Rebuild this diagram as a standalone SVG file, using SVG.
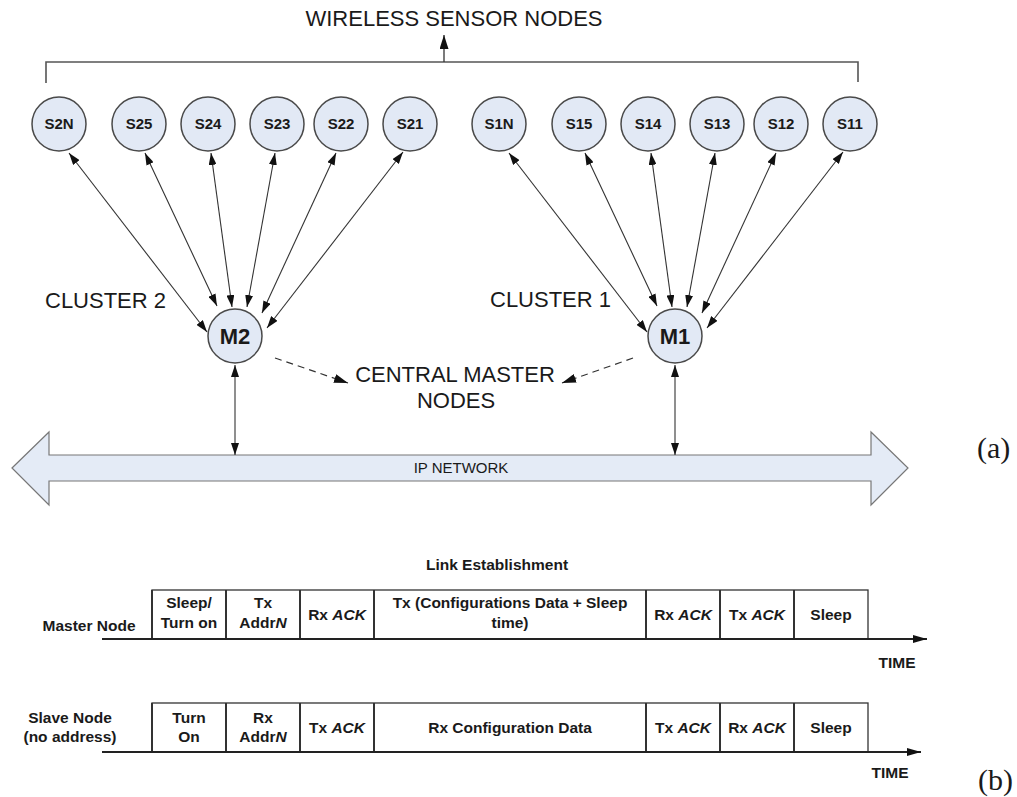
<svg xmlns="http://www.w3.org/2000/svg" width="1017" height="797" viewBox="0 0 1017 797">
  <style>
    text { font-family: "Liberation Sans", Arial, sans-serif; fill: #1a1a1a; }
    .big { font-size: 22px; }
    .node circle { fill: #e2e9f5; stroke: #4a4a4a; stroke-width: 1.5; }
    .node text { font-weight: bold; font-size: 15px; text-anchor: middle; }
    .master text { font-size: 22px; }
    .link { stroke: #333; stroke-width: 1.1; fill: none; marker-start: url(#ah); marker-end: url(#ah); }
    .dash { stroke: #333; stroke-width: 1.2; fill: none; stroke-dasharray: 7 5; marker-end: url(#ahl); }
    .bracket { stroke: #555; stroke-width: 1.6; fill: none; }
    .tl text { font-weight: bold; font-size: 15.5px; text-anchor: middle; }
    .cell { stroke: #333; stroke-width: 1.3; fill: #fff; }
    .sep { stroke: #333; stroke-width: 2; }
    .axis { stroke: #222; stroke-width: 2; fill: none; marker-end: url(#axh); }
    .fig { font-family: "Liberation Serif", "Times New Roman", serif; font-size: 30px; }
  </style>
  <defs>
    <marker id="ah" viewBox="0 0 12 8" refX="12" refY="4" markerWidth="12" markerHeight="8" markerUnits="userSpaceOnUse" orient="auto-start-reverse">
      <path d="M0,0 L12,4 L0,8 z" fill="#111"/>
    </marker>
    <marker id="ahl" viewBox="0 0 14 9" refX="14" refY="4.5" markerWidth="14" markerHeight="9" markerUnits="userSpaceOnUse" orient="auto">
      <path d="M0,0 L14,4.5 L0,9 z" fill="#111"/>
    </marker>
    <marker id="axh" viewBox="0 0 14 8" refX="14" refY="4" markerWidth="14" markerHeight="8" markerUnits="userSpaceOnUse" orient="auto">
      <path d="M0,0 L14,4 L0,8 z" fill="#111"/>
    </marker>
  </defs>

  <!-- header: label and bracket over all sensor nodes -->
  <g id="header">
    <text class="big" x="454" y="26" text-anchor="middle">WIRELESS SENSOR NODES</text>
    <path class="bracket" d="M46,83 V62 H858 V82"/>
    <line x1="444" y1="62" x2="444" y2="35" stroke="#333" stroke-width="1.3" marker-end="url(#ahl)"/>
  </g>

  <!-- cluster 2 sensor nodes -->
  <g id="S2N" class="node"><circle cx="59" cy="124" r="27"/><text x="59" y="129">S2N</text></g>
  <g id="S25" class="node"><circle cx="139" cy="124" r="27"/><text x="139" y="129">S25</text></g>
  <g id="S24" class="node"><circle cx="208" cy="124" r="27"/><text x="208" y="129">S24</text></g>
  <g id="S23" class="node"><circle cx="277" cy="124" r="27"/><text x="277" y="129">S23</text></g>
  <g id="S22" class="node"><circle cx="341" cy="124" r="27"/><text x="341" y="129">S22</text></g>
  <g id="S21" class="node"><circle cx="410" cy="124" r="27"/><text x="410" y="129">S21</text></g>

  <!-- cluster 1 sensor nodes -->
  <g id="S1N" class="node"><circle cx="499" cy="124" r="27"/><text x="499" y="129">S1N</text></g>
  <g id="S15" class="node"><circle cx="579" cy="124" r="27"/><text x="579" y="129">S15</text></g>
  <g id="S14" class="node"><circle cx="648" cy="124" r="27"/><text x="648" y="129">S14</text></g>
  <g id="S13" class="node"><circle cx="717" cy="124" r="27"/><text x="717" y="129">S13</text></g>
  <g id="S12" class="node"><circle cx="781" cy="124" r="27"/><text x="781" y="129">S12</text></g>
  <g id="S11" class="node"><circle cx="850" cy="124" r="27"/><text x="850" y="129">S11</text></g>

  <!-- central master nodes -->
  <g id="M2" class="node master"><circle cx="235" cy="336" r="27"/><text x="235" y="344">M2</text></g>
  <g id="M1" class="node master"><circle cx="675" cy="336" r="27"/><text x="675" y="344">M1</text></g>

  <!-- IP network backbone -->
  <g id="ipnet">
    <path d="M12,468 L49,432 V455 H871 V432 L908,468 L871,505 V481 H49 V505 Z" fill="#e4ebf6" stroke="#777" stroke-width="1.2"/>
    <text x="461" y="473" font-size="15" text-anchor="middle">IP NETWORK</text>
  </g>

  <!-- labels -->
  <g id="labels">
    <text class="big" x="45" y="308">CLUSTER 2</text>
    <text class="big" x="490" y="307">CLUSTER 1</text>
    <text class="big" x="455" y="382" text-anchor="middle">CENTRAL MASTER</text>
    <text class="big" x="456" y="408" text-anchor="middle">NODES</text>
    <text class="fig" x="977" y="458">(a)</text>
    <text class="fig" x="978" y="790">(b)</text>
  </g>

  <!-- connectors -->
  <g id="connectors">
    <line class="link" x1="69" y1="153" x2="207" y2="332"/>
    <line class="link" x1="145" y1="153" x2="217" y2="306"/>
    <line class="link" x1="211" y1="153" x2="232" y2="307"/>
    <line class="link" x1="275" y1="153" x2="247" y2="307"/>
    <line class="link" x1="336" y1="153" x2="262" y2="313"/>
    <line class="link" x1="403" y1="152" x2="267" y2="328"/>

    <line class="link" x1="509" y1="153" x2="647" y2="332"/>
    <line class="link" x1="585" y1="153" x2="657" y2="306"/>
    <line class="link" x1="651" y1="153" x2="672" y2="307"/>
    <line class="link" x1="715" y1="153" x2="687" y2="307"/>
    <line class="link" x1="776" y1="153" x2="702" y2="313"/>
    <line class="link" x1="843" y1="152" x2="707" y2="328"/>

    <line class="link" x1="235" y1="365" x2="235" y2="455"/>
    <line class="link" x1="675" y1="365" x2="675" y2="455"/>

    <line class="dash" x1="275" y1="358" x2="348" y2="383"/>
    <line class="dash" x1="633" y1="358" x2="562" y2="383"/>
  </g>

  <!-- link establishment timing -->
  <g id="timeline" class="tl">
    <text x="497" y="570">Link Establishment</text>

    <g id="master-row">
      <text x="89" y="631">Master Node</text>
      <rect class="cell" x="152" y="590" width="716" height="49"/>
      <path class="sep" d="M152,590 V639 M226,590 V639 M300,590 V639 M374,590 V639 M646,590 V639 M720,590 V639 M794,590 V639"/>
      <line class="axis" x1="102" y1="639" x2="927" y2="639"/>
      <text x="189" y="608">Sleep/</text>
      <text x="189" y="628">Turn on</text>
      <text x="263" y="608">Tx</text>
      <text x="263" y="628">Addr<tspan font-style="italic">N</tspan></text>
      <text x="337" y="620">Rx <tspan font-style="italic">ACK</tspan></text>
      <text x="510" y="608">Tx (Configurations Data + Sleep</text>
      <text x="510" y="628">time)</text>
      <text x="683" y="620">Rx <tspan font-style="italic">ACK</tspan></text>
      <text x="757" y="620">Tx <tspan font-style="italic">ACK</tspan></text>
      <text x="831" y="620">Sleep</text>
      <text x="897" y="668" font-size="14.5">TIME</text>
    </g>

    <g id="slave-row">
      <text x="70" y="723">Slave Node</text>
      <text x="70" y="742">(no address)</text>
      <rect class="cell" x="152" y="703" width="716" height="49"/>
      <path class="sep" d="M152,703 V752 M226,703 V752 M300,703 V752 M374,703 V752 M646,703 V752 M720,703 V752 M794,703 V752"/>
      <line class="axis" x1="102" y1="752" x2="921" y2="752"/>
      <text x="189" y="723">Turn</text>
      <text x="189" y="742">On</text>
      <text x="263" y="723">Rx</text>
      <text x="263" y="742">Addr<tspan font-style="italic">N</tspan></text>
      <text x="337" y="733">Tx <tspan font-style="italic">ACK</tspan></text>
      <text x="510" y="733">Rx Configuration Data</text>
      <text x="683" y="733">Tx <tspan font-style="italic">ACK</tspan></text>
      <text x="757" y="733">Rx <tspan font-style="italic">ACK</tspan></text>
      <text x="831" y="733">Sleep</text>
      <text x="890" y="778" font-size="14.5">TIME</text>
    </g>
  </g>
</svg>
